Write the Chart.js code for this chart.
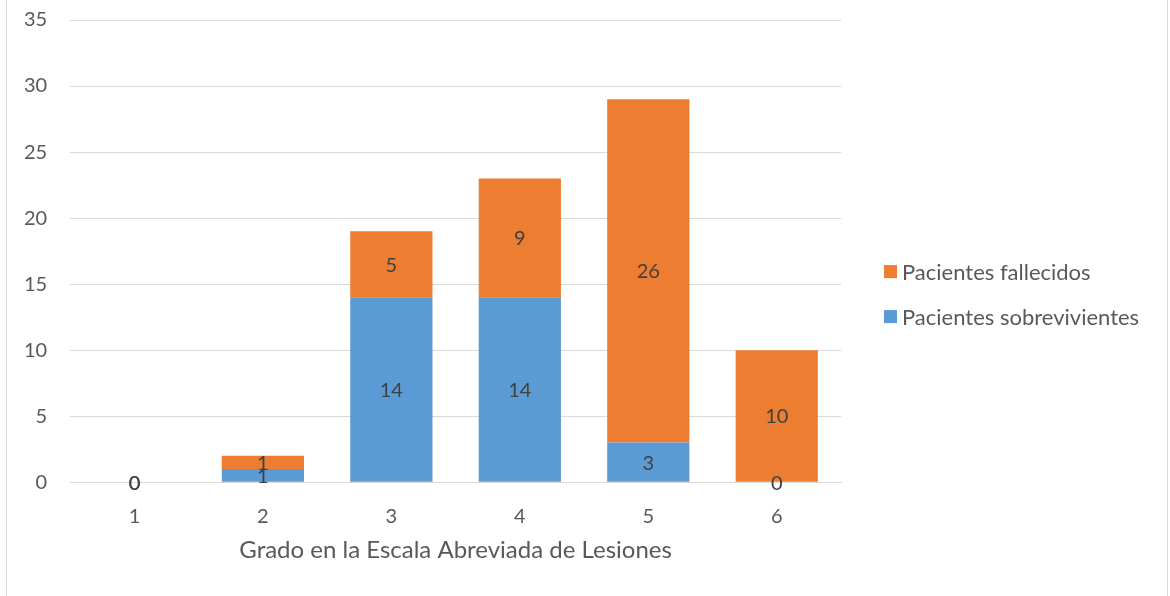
<!DOCTYPE html>
<html>
<head>
<meta charset="utf-8">
<script src="https://cdn.jsdelivr.net/npm/chart.js@4"></script>
<style>
  html, body { margin: 0; padding: 0; background: #fff; overflow: hidden; }
  #frame { position: absolute; left: 6px; top: -20px; width: 1160px; height: 620px; border: 1px solid #d9d9d9; background: #fff; }
  #wrap { position: absolute; left: 0; top: 4px; width: 1160px; height: 611px; }
</style>
</head>
<body>
<div id="frame"><div id="wrap"><canvas id="c"></canvas></div></div>
<script>
const categories = ["1", "2", "3", "4", "5", "6"];
const sobrevivientes = [0, 1, 14, 14, 3, 0];
const fallecidos = [0, 1, 5, 9, 26, 10];
const seriesNames = ["Pacientes sobrevivientes", "Pacientes fallecidos"];
const seriesColors = ["#5B9BD5", "#ED7D31"];
const xTitle = "Grado en la Escala Abreviada de Lesiones";
const yMax = 35, yStep = 5;

const FONT = "Lato, 'Open Sans', sans-serif";

const labelPlugin = {
  id: 'barLabels',
  afterDatasetsDraw(chart) {
    const ctx = chart.ctx;
    ctx.save();
    ctx.font = "20px " + FONT;
    ctx.fillStyle = "#404040";
    ctx.textAlign = "center";
    ctx.textBaseline = "middle";
    chart.data.datasets.forEach((ds, i) => {
      const meta = chart.getDatasetMeta(i);
      meta.data.forEach((el, j) => {
        const p = el.getCenterPoint();
        ctx.fillText(String(ds.data[j]), p.x, p.y + 1);
      });
    });
    ctx.restore();
  }
};

const legendPlugin = {
  id: 'sideLegend',
  afterDraw(chart) {
    const ctx = chart.ctx;
    const area = chart.chartArea;
    const x = area.right + 43;
    const midY = (area.top + area.bottom) / 2 + 43;
    const rowGap = 45;
    ctx.save();
    ctx.font = "22px " + FONT;
    ctx.textBaseline = "middle";
    ctx.textAlign = "left";
    const order = chart.data.datasets.map((d, i) => i).reverse();
    order.forEach((dsIndex, row) => {
      const ds = chart.data.datasets[dsIndex];
      const y = midY + (row - (order.length - 1) / 2) * rowGap;
      ctx.fillStyle = ds.backgroundColor;
      ctx.fillRect(x, y - 6.5, 13, 13);
      ctx.fillStyle = "#595959";
      ctx.fillText(ds.label, x + 18, y + 1);
    });
    ctx.restore();
  }
};

new Chart(document.getElementById('c'), {
  type: 'bar',
  data: {
    labels: categories,
    datasets: [
      { label: seriesNames[0], data: sobrevivientes, backgroundColor: seriesColors[0], borderWidth: 0 },
      { label: seriesNames[1], data: fallecidos, backgroundColor: seriesColors[1], borderWidth: 0 }
    ]
  },
  options: {
    responsive: true,
    maintainAspectRatio: false,
    animation: false,
    layout: { padding: { left: -6, right: 326, top: -4, bottom: 27 } },
    datasets: { bar: { categoryPercentage: 0.64, barPercentage: 1 } },
    plugins: {
      legend: { display: false },
      tooltip: { enabled: false }
    },
    scales: {
      x: {
        stacked: true,
        grid: { display: false, drawTicks: false },
        border: { display: true, color: '#d9d9d9' },
        ticks: { font: { family: FONT, size: 20 }, color: '#595959', padding: 22 },
        title: { display: true, text: xTitle, font: { family: FONT, size: 24 }, color: '#595959', padding: { top: -14, bottom: 4 } }
      },
      y: {
        stacked: true,
        min: 0, max: yMax,
        grid: { color: '#d9d9d9', drawTicks: false },
        border: { display: false },
        ticks: { stepSize: yStep, font: { family: FONT, size: 20 }, color: '#595959', padding: 23 }
      }
    }
  },
  plugins: [labelPlugin, legendPlugin]
});
</script>
</body>
</html>
